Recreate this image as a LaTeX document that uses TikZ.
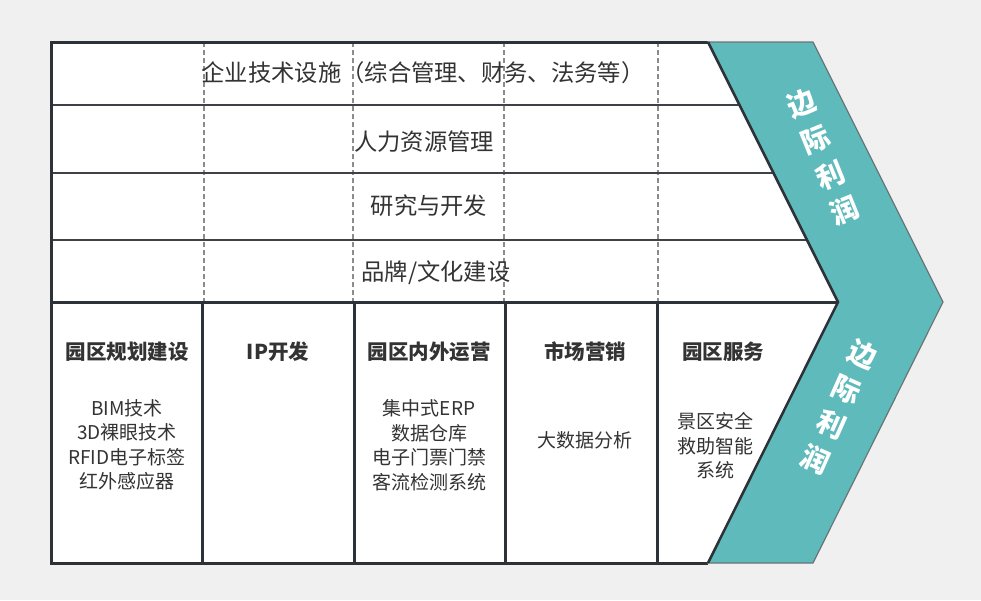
\documentclass[tikz,border=0pt]{standalone}
\usepackage{fontspec}
\setmainfont{Noto Sans CJK SC}
\definecolor{bggray}{RGB}{240,240,240}
\definecolor{tealfill}{RGB}{95,186,187}
\definecolor{tealedge}{RGB}{105,118,120}
\definecolor{gridline}{RGB}{45,50,56}
\definecolor{rowline}{RGB}{62,66,70}
\definecolor{dashgray}{RGB}{140,140,140}
\definecolor{textgray}{RGB}{51,51,51}

\begin{document}
\begin{tikzpicture}[y=1pt, x=1pt, yscale=-1, inner sep=0pt, outer sep=0pt,
  rowtext/.style={text=textgray, font=\fontsize{23.3}{28}\selectfont},
  headtext/.style={text=textgray, font=\bfseries\fontsize{20.5}{24}\selectfont},
  bodytext/.style={text=textgray, align=center, font=\fontsize{19}{24.5}\selectfont},
  margintext/.style={text=white, align=center, font=\bfseries\fontsize{28}{38.5}\selectfont}]
\path[fill=bggray, use as bounding box] (0,0) rectangle (981,600);
\path[fill=white] (51,42) -- (708,42) -- (838,302) -- (708,563) -- (51,563) -- cycle;
\foreach \x in {204,353,504,658}
  \path[draw=dashgray, line width=1.2pt, dash pattern=on 5pt off 3pt] (\x,42) -- (\x,302);
\path[draw=rowline, line width=2.5pt] (51,105) -- (739.5,105);
\path[draw=rowline, line width=2.5pt] (51,173) -- (773.5,173);
\path[draw=rowline, line width=2.5pt] (51,240) -- (807,240);
\path[draw=gridline, line width=3pt] (51,302) -- (838,302);
\foreach \x in {202,354,505,657}
  \path[draw=gridline, line width=3pt] (\x,302) -- (\x,563);
\path[draw=gridline, line width=3pt, line join=miter]
  (708,42) -- (51,42) -- (51,563) -- (708,563);
\path[fill=tealfill, draw=tealedge, line width=1.2pt, line join=miter]
  (708,42) -- (813,42) -- (943,302) -- (813,563) -- (708,563) -- (838,302) -- cycle;
\path[draw=gridline, line width=2.5pt, line join=miter]
  (708,42) -- (838,302) -- (708,563);

\path (423,73) node[rowtext] (textInfra) {企业技术设施（综合管理、财务、法务等）};
\path (424,142) node[rowtext] (textHR) {人力资源管理};
\path (429,206) node[rowtext] (textRD) {研究与开发};
\path (436,273) node[rowtext] (textBrand) {品牌/文化建设};

\path (127,352) node[headtext] (headPlan) {园区规划建设};
\path (278,352) node[headtext] (headIP) {IP开发};
\path (429,352) node[headtext] (headOps) {园区内外运营};
\path (585,352) node[headtext] (headMkt) {市场营销};
\path (723,352) node[headtext] (headSvc) {园区服务};

\path (127,445) node[bodytext] (bodyPlan)
  {BIM技术\\3D裸眼技术\\RFID电子标签\\红外感应器};
\path (429,445) node[bodytext] (bodyOps)
  {集中式ERP\\数据仓库\\电子门票门禁\\客流检测系统};
\path (585,440) node[bodytext] (bodyMkt) {大数据分析};
\path (715,446) node[bodytext] (bodySvc) {景区安全\\救助智能\\系统};

\path (823,157) node[margintext, rotate=22] (marginUp) {边\\际\\利\\润};
\path (839,407) node[margintext, rotate=-24] (marginDown) {边\\际\\利\\润};

\end{tikzpicture}
\end{document}
